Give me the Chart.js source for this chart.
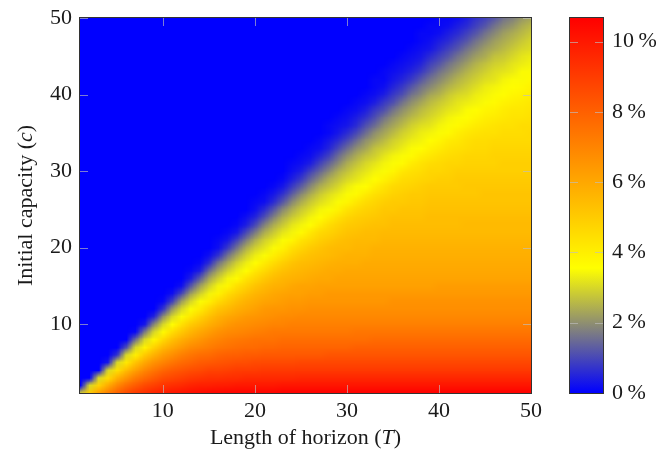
<!DOCTYPE html>
<html>
<head>
<meta charset="utf-8">
<script src="https://cdn.jsdelivr.net/npm/chart.js@4.4.1/dist/chart.umd.min.js"></script>
<style>
  html, body { margin: 0; padding: 0; background: #fff; }
  #wrap { width: 656px; height: 458px; }
</style>
</head>
<body>
<div id="wrap"><canvas id="gap-chart" width="656" height="458"></canvas></div>
<script>
// rows: initial capacity c = 1..50, columns: length of horizon T = 1..50
// firstHorizon[i] = first T with a non-zero gap in row c = i + 1 (blue before it)
const firstHorizon = [1,2,3,4,4,5,6,7,7,8, 9,10,10,11,12,13,13,14,15,16,
  16,17,18,19,20,20,21,22,23,24, 24,25,26,27,28,28,29,30,31,32,
  33,33,34,35,36,37,38,38,39,40];

// gap in tenths of a percent, from T = firstHorizon[i] up to T = 50
const gapTenths = [
  [30,50,63,72,80,86,91,94,97,99,101,102,103,104,105,105,106,106,106,106,106,106,107,107,107,107,107,107,107,107,107,107,107,107,107,107,107,107,107,107,107,107,107,107,107,107,107,107,107,107],
  [30,48,59,69,76,81,86,89,92,94,95,97,98,98,99,99,100,100,100,100,100,101,101,101,101,101,101,101,101,101,101,101,101,101,101,101,101,101,101,101,101,101,101,101,101,101,101,101,101],
  [30,45,57,65,72,77,81,85,87,89,91,92,93,93,94,94,95,95,95,95,95,95,96,96,96,96,96,96,96,96,96,96,96,96,96,96,96,96,96,96,96,96,96,96,96,96,96,96],
  [30,44,54,62,69,74,78,81,83,85,86,88,88,89,90,90,90,91,91,91,91,91,91,91,91,91,91,91,91,91,91,91,91,91,91,91,91,91,91,91,91,91,91,91,91,91,91],
  [3,30,42,52,60,66,70,74,77,79,81,82,83,84,85,85,86,86,86,86,86,87,87,87,87,87,87,87,87,87,87,87,87,87,87,87,87,87,87,87,87,87,87,87,87,87,87],
  [7,30,40,50,57,63,67,71,74,76,77,79,80,80,81,81,82,82,82,82,82,82,82,83,83,83,83,83,83,83,83,83,83,83,83,83,83,83,83,83,83,83,83,83,83,83],
  [11,30,39,48,55,60,64,68,70,72,74,75,76,77,77,78,78,79,79,79,79,79,79,79,79,80,80,80,80,80,80,80,80,80,80,80,80,80,80,80,80,80,80,80,80],
  [15,30,38,46,53,58,62,65,68,70,72,73,74,75,75,75,76,76,76,76,76,76,76,76,76,76,77,77,77,77,77,77,77,77,77,77,77,77,77,77,77,77,77,77],
  [1,17,30,37,45,51,56,60,63,66,68,69,70,71,72,73,73,73,73,73,73,73,73,73,74,74,74,74,74,74,74,74,74,74,74,74,74,74,74,74,74,74,74,74],
  [3,19,30,36,44,50,54,58,61,64,66,67,68,69,70,70,71,71,71,71,71,71,71,71,71,71,71,71,71,71,71,71,71,71,71,71,71,71,71,71,71,71,71],
  [5,20,30,35,42,48,53,57,60,62,64,65,66,67,68,68,69,69,69,69,69,69,69,69,69,69,69,69,69,69,69,69,69,69,69,69,69,69,69,69,69,69],
  [7,21,30,35,41,47,52,55,58,60,62,64,65,65,66,66,67,67,67,67,67,67,67,67,67,67,67,67,67,67,67,67,67,67,67,67,67,67,67,67,67],
  [1,9,22,30,35,40,46,50,54,57,59,61,62,63,64,64,65,65,65,65,65,65,65,65,65,66,66,66,66,66,66,66,66,66,66,66,66,66,66,66,66],
  [2,10,22,29,34,39,45,49,53,56,58,60,61,62,62,63,63,64,64,64,64,64,64,64,64,64,64,64,64,64,64,64,64,64,64,64,64,64,64,64],
  [2,12,22,29,34,38,44,48,52,55,57,58,60,61,61,62,62,62,62,62,62,62,62,62,62,62,62,62,63,63,63,63,63,63,63,63,63,63,63],
  [4,13,23,29,34,37,43,47,51,54,56,57,58,59,60,60,61,61,61,61,61,61,61,61,61,61,61,61,61,61,61,61,61,61,61,61,61,61],
  [1,4,15,23,29,33,36,42,46,50,53,55,56,57,58,59,59,60,60,60,60,60,60,60,60,60,60,60,60,60,60,60,60,60,60,60,60,60],
  [1,6,16,23,29,33,36,41,45,49,52,54,55,56,57,58,58,58,59,59,59,59,59,59,59,59,59,59,59,59,59,59,59,59,59,59,59],
  [2,7,16,23,29,33,35,40,44,48,51,53,54,55,56,57,57,57,58,58,58,58,58,58,58,58,58,58,58,58,58,58,58,58,58,58],
  [2,8,16,24,29,32,35,39,44,47,50,52,54,55,55,56,56,57,57,57,57,57,57,57,57,57,57,57,57,57,57,57,57,57,57],
  [1,3,9,17,24,29,32,35,38,43,46,49,51,53,54,55,55,55,56,56,56,56,56,56,56,56,56,56,56,56,56,56,56,56,56],
  [1,3,10,17,24,28,32,34,37,42,46,48,50,52,53,54,54,55,55,55,55,55,55,55,55,55,55,55,55,55,55,55,55,55],
  [1,4,10,18,24,28,32,34,36,41,45,48,50,51,52,53,53,54,54,54,54,54,54,54,54,55,55,55,55,55,55,55,55],
  [2,5,11,18,24,28,31,34,36,40,44,47,49,50,51,52,53,53,53,53,54,54,54,54,54,54,54,54,54,54,54,54],
  [2,6,12,19,24,28,31,34,35,39,43,46,48,49,51,51,52,52,52,53,53,53,53,53,53,53,53,53,53,53,53],
  [1,2,6,12,19,24,28,31,33,35,38,42,45,47,49,50,50,51,51,52,52,52,52,52,52,52,52,52,52,52,52],
  [1,3,7,13,19,24,28,31,33,35,37,41,44,46,48,49,50,50,51,51,51,51,51,51,52,52,52,52,52,52],
  [1,3,8,13,19,24,27,30,33,35,36,40,43,46,47,48,49,50,50,50,50,51,51,51,51,51,51,51,51],
  [1,4,8,14,19,24,27,30,32,34,36,39,42,45,46,47,48,49,49,50,50,50,50,50,50,50,50,50],
  [2,4,9,14,19,24,27,30,32,34,35,38,42,44,45,47,47,48,49,49,49,49,49,49,49,49,49],
  [1,2,4,9,14,19,24,27,30,32,34,35,37,41,43,45,46,47,47,48,48,48,48,49,49,49,49],
  [1,2,5,9,15,20,24,27,29,32,34,35,37,40,42,44,45,46,47,47,47,48,48,48,48,48],
  [1,2,5,10,15,20,23,27,29,31,33,35,36,39,41,43,44,45,46,46,47,47,47,47,47],
  [1,3,6,10,15,20,23,26,29,31,33,34,36,38,41,42,44,45,45,46,46,46,46,46],
  [1,3,6,10,15,20,23,26,29,31,33,34,35,37,40,42,43,44,44,45,45,45,46],
  [1,2,3,6,11,15,20,23,26,29,31,32,34,35,37,39,41,42,43,44,44,45,45],
  [1,2,4,7,11,16,20,23,26,28,30,32,34,35,36,38,40,41,42,43,43,44],
  [1,2,4,8,11,16,20,23,26,28,30,32,33,35,36,38,39,41,42,42,43],
  [1,2,4,8,11,16,20,23,26,28,30,32,33,34,35,37,39,40,41,42],
  [1,2,4,8,11,16,19,23,25,28,30,31,33,34,35,36,38,39,40],
  [1,2,5,8,12,16,19,22,25,27,29,31,33,34,35,36,37,39],
  [1,1,3,5,8,12,16,19,22,25,27,29,31,32,34,35,35,37],
  [1,2,3,5,8,12,16,19,22,25,27,29,31,32,33,35,35],
  [1,2,3,5,9,12,16,19,22,25,27,29,30,32,33,34],
  [1,2,3,6,9,12,16,19,22,24,27,28,30,32,33],
  [1,2,3,6,9,12,16,19,22,24,26,28,30,31],
  [1,2,4,6,9,12,16,19,22,24,26,28,30],
  [1,1,2,4,6,9,12,16,19,22,24,26,28],
  [1,1,2,4,6,9,12,16,19,21,24,26],
  [1,1,2,4,7,9,12,16,18,21,23]
];

const axisTicks = [10, 20, 30, 40, 50];
const barTicks = [0, 2, 4, 6, 8, 10];
const gapMax = 10.67; // top of the colour bar, in %
const lastHorizon = 50;

// pgfplots "hot" map: blue, yellow, orange, red
const hotStops = [
  [0, [0, 0, 255]],
  [1 / 3, [255, 255, 0]],
  [2 / 3, [255, 128, 0]],
  [1, [255, 0, 0]]
];

function hotRGB(t) {
  t = Math.max(0, Math.min(1, t));
  for (let i = 1; i < hotStops.length; i++) {
    if (t <= hotStops[i][0]) {
      const a = hotStops[i - 1], b = hotStops[i];
      const f = (t - a[0]) / (b[0] - a[0]);
      return a[1].map((v, k) => Math.round(v + (b[1][k] - v) * f));
    }
  }
  return [255, 0, 0];
}

let cells = [];
for (let i = 0; i < gapTenths.length; i++) {
  if (firstHorizon[i] + gapTenths[i].length - 1 !== lastHorizon) {
    console.warn('row ' + (i + 1) + ' has wrong length');
  }
  for (let T = 1; T <= lastHorizon; T++) {
    const k = T - firstHorizon[i];
    const v = k >= 0 ? (gapTenths[i][k] ?? 0) / 10 : 0;
    cells.push({ x: T, y: i + 1, v: v });
  }
}

const serif = '"Liberation Serif", "Times New Roman", serif';
const textColor = '#1a1a1a';
const tickFont = { family: serif, size: 22 };

// heat map with smooth (interpolated) shading between the grid points, like shader=interp
let shadeImage = null;
const heatmap = {
  id: 'heatmap',
  beforeDatasetsDraw(chart) {
    const { ctx, chartArea: a } = chart;
    const xs = chart.scales.x, ys = chart.scales.y;
    const pts = chart.data.datasets[0].data;
    const nT = xs.max, nC = ys.max;
    if (!shadeImage) {
      shadeImage = document.createElement('canvas');
      shadeImage.width = nT;
      shadeImage.height = nC;
      const g = shadeImage.getContext('2d');
      const img = g.createImageData(nT, nC);
      pts.forEach(p => {
        const idx = ((nC - p.y) * nT + (p.x - 1)) * 4;
        const c = hotRGB(p.v / gapMax);
        img.data[idx] = c[0]; img.data[idx + 1] = c[1]; img.data[idx + 2] = c[2]; img.data[idx + 3] = 255;
      });
      g.putImageData(img, 0, 0);
    }
    const x0 = xs.getPixelForValue(0.5), x1 = xs.getPixelForValue(nT + 0.5);
    const yTop = ys.getPixelForValue(nC + 0.5), yBot = ys.getPixelForValue(0.5);
    ctx.save();
    ctx.beginPath();
    ctx.rect(a.left, a.top, a.width, a.height);
    ctx.clip();
    ctx.imageSmoothingEnabled = true;
    ctx.imageSmoothingQuality = 'low';
    ctx.drawImage(shadeImage, x0, yTop, x1 - x0, yBot - yTop);
    ctx.restore();
  }
};

function drawParts(ctx, parts, cx, cy) {
  const w = parts.map(p => { ctx.font = p.font; return ctx.measureText(p.text).width; });
  let x = cx - w.reduce((s, v) => s + v, 0) / 2;
  parts.forEach((p, i) => {
    ctx.font = p.font;
    ctx.fillText(p.text, x, cy);
    x += w[i];
  });
}

const decorations = {
  id: 'decorations',
  afterDraw(chart) {
    const { ctx, chartArea: a } = chart;
    const xs = chart.scales.x, ys = chart.scales.y, cb = chart.scales.cb;
    const tickLen = 8;
    ctx.save();

    // colour bar
    const barLeft = Math.round(a.right) + 39;
    const barWidth = 33;
    const bTop = cb.getPixelForValue(gapMax);
    const bBottom = cb.getPixelForValue(0);
    const grad = ctx.createLinearGradient(0, bBottom, 0, bTop);
    hotStops.forEach(s => grad.addColorStop(s[0], 'rgb(' + s[1].join(',') + ')'));
    ctx.fillStyle = grad;
    ctx.fillRect(barLeft, bTop, barWidth, bBottom - bTop);

    // inner tick marks
    ctx.strokeStyle = 'rgba(190,190,190,0.65)';
    ctx.lineWidth = 1;
    ctx.beginPath();
    axisTicks.forEach(v => {
      const px = Math.round(xs.getPixelForValue(v)) + 0.5;
      ctx.moveTo(px, a.bottom); ctx.lineTo(px, a.bottom - tickLen);
      ctx.moveTo(px, a.top); ctx.lineTo(px, a.top + tickLen);
      const py = Math.round(ys.getPixelForValue(v)) + 0.5;
      ctx.moveTo(a.left, py); ctx.lineTo(a.left + tickLen, py);
      ctx.moveTo(a.right, py); ctx.lineTo(a.right - tickLen, py);
    });
    barTicks.forEach(v => {
      const py = Math.round(cb.getPixelForValue(v)) + 0.5;
      ctx.moveTo(barLeft, py); ctx.lineTo(barLeft + tickLen, py);
      ctx.moveTo(barLeft + barWidth, py); ctx.lineTo(barLeft + barWidth - tickLen, py);
    });
    ctx.stroke();

    // frames
    ctx.strokeStyle = '#333';
    ctx.lineWidth = 1;
    ctx.strokeRect(Math.round(a.left) - 0.5, Math.round(a.top) - 0.5,
      Math.round(a.width) + 1, Math.round(a.height) + 1);
    ctx.strokeRect(barLeft - 0.5, Math.round(bTop) - 0.5, barWidth + 1, Math.round(bBottom - bTop) + 1);

    // axis titles with italic symbols
    ctx.fillStyle = textColor;
    ctx.textAlign = 'left';
    ctx.textBaseline = 'middle';
    const up = '22px ' + serif, it = 'italic 22px ' + serif;
    drawParts(ctx, [
      { text: 'Length of horizon (', font: up },
      { text: 'T', font: it },
      { text: ')', font: up }
    ], (a.left + a.right) / 2, 438);
    ctx.save();
    ctx.translate(26, (a.top + a.bottom) / 2);
    ctx.rotate(-Math.PI / 2);
    drawParts(ctx, [
      { text: 'Initial capacity (', font: up },
      { text: 'c', font: it },
      { text: ')', font: up }
    ], 0, 0);
    ctx.restore();

    ctx.restore();
  }
};

// keep the chart area fixed: no extra label padding from the scales
function noPad(s) {
  s.paddingTop = 0; s.paddingBottom = 0; s.paddingLeft = 0; s.paddingRight = 0;
}

new Chart(document.getElementById('gap-chart'), {
  type: 'scatter',
  data: {
    datasets: [{
      label: 'gap',
      data: cells,
      pointRadius: 0,
      pointHoverRadius: 0,
      showLine: false
    }]
  },
  options: {
    responsive: false,
    devicePixelRatio: 1,
    animation: false,
    events: [],
    layout: { padding: { top: 18, left: 0, right: 0, bottom: 0 } },
    plugins: {
      legend: { display: false },
      tooltip: { enabled: false }
    },
    scales: {
      x: {
        type: 'linear',
        position: 'bottom',
        min: 1,
        max: 50,
        afterBuildTicks: s => { s.ticks = axisTicks.map(v => ({ value: v })); },
        afterFit: s => { s.height = 65; noPad(s); },
        grid: { display: false, drawTicks: false },
        border: { display: false },
        ticks: { font: tickFont, color: textColor, padding: 5, maxRotation: 0, autoSkip: false, callback: v => String(v) }
      },
      y: {
        type: 'linear',
        position: 'left',
        min: 1,
        max: 50,
        afterBuildTicks: s => { s.ticks = axisTicks.map(v => ({ value: v })); },
        afterFit: s => { s.width = 80; noPad(s); },
        grid: { display: false, drawTicks: false },
        border: { display: false },
        ticks: { font: tickFont, color: textColor, padding: 8, autoSkip: false, callback: v => String(v) }
      },
      cb: {
        type: 'linear',
        position: 'right',
        min: 0,
        max: gapMax,
        afterBuildTicks: s => { s.ticks = barTicks.map(v => ({ value: v })); },
        afterFit: s => { s.width = 125; noPad(s); },
        grid: { display: false, drawTicks: false },
        border: { display: false },
        ticks: { font: tickFont, color: textColor, padding: 81, autoSkip: false, callback: v => v + '\u2009%' }
      }
    }
  },
  plugins: [heatmap, decorations]
});
</script>
</body>
</html>
